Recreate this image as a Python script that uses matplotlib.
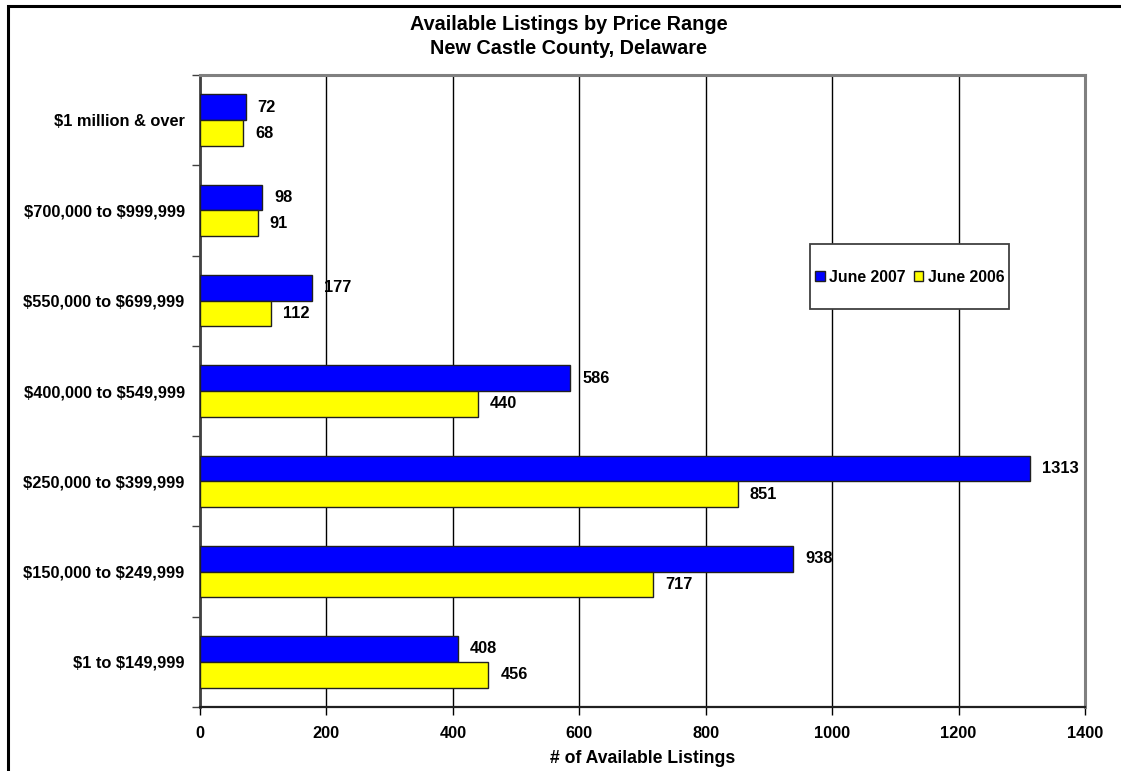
import matplotlib
matplotlib.use("Agg")
import matplotlib.pyplot as plt
import numpy as np
from matplotlib.patches import Rectangle

plt.rcParams['font.family'] = ['Liberation Sans', 'DejaVu Sans']
plt.rcParams['font.weight'] = 'bold'
plt.rcParams['text.parse_math'] = False

categories = ["$1 to $149,999", "$150,000 to $249,999", "$250,000 to $399,999",
              "$400,000 to $549,999", "$550,000 to $699,999", "$700,000 to $999,999",
              "$1 million & over"]
june_2007 = [408, 938, 1313, 586, 177, 98, 72]
june_2006 = [456, 717, 851, 440, 112, 91, 68]
series_labels = ["June 2007", "June 2006"]
x_ticks = [0, 200, 400, 600, 800, 1000, 1200, 1400]

fig = plt.figure(figsize=(11.21, 7.71), dpi=100)
W, H = 1121, 771
ax = fig.add_axes([200 / W, 1 - 707 / H, 885 / W, 632 / H])

# outer chart frame
fig.patches.append(Rectangle((8 / W, -0.05), 1.2, 1 - 6 / H + 0.05,
                             transform=fig.transFigure, fill=False,
                             edgecolor='black', linewidth=2.2, zorder=0))

y = np.arange(len(categories))
h = 0.285
b1 = ax.barh(y + h / 2, june_2007, height=h, color='#0000FF', edgecolor='#202020',
             linewidth=1.0, label=series_labels[0], zorder=3)
b2 = ax.barh(y - h / 2, june_2006, height=h, color='#FFFF00', edgecolor='#202020',
             linewidth=1.0, label=series_labels[1], zorder=3)

for bars, vals in ((b1, june_2007), (b2, june_2006)):
    for bar, v in zip(bars, vals):
        ax.text(v + 19, bar.get_y() + bar.get_height() / 2, str(v),
                va='center', ha='left', fontsize=11.8, fontweight='bold', zorder=4)

ax.set_xlim(0, 1400)
ax.set_ylim(-0.5, len(categories) - 0.5)
ax.set_xticks(x_ticks)
ax.set_xticklabels([str(t) for t in x_ticks], fontsize=11.8, fontweight='bold')
ax.tick_params(axis='x', direction='out', length=6, width=1, pad=8, color='black')

ax.set_yticks(y)
ax.set_yticklabels(categories, fontsize=11.8, fontweight='bold')
ax.tick_params(axis='y', which='major', length=0, pad=11)
ax.set_yticks(np.arange(-0.5, len(categories), 1), minor=True)
ax.tick_params(axis='y', which='minor', direction='out', length=6, width=1, color='#404040')

ax.xaxis.grid(True, color='black', linewidth=1.0, zorder=0)
ax.set_axisbelow(True)

for side in ('top', 'right'):
    ax.spines[side].set_color('#808080')
    ax.spines[side].set_linewidth(2.2)
ax.spines['left'].set_color('#404040')
ax.spines['left'].set_linewidth(2.0)
ax.spines['bottom'].set_color('#202020')
ax.spines['bottom'].set_linewidth(1.6)

ax.set_xlabel("# of Available Listings", fontsize=12.7, fontweight='bold', labelpad=6)
fig.text(569 / W, 1 - 25 / H, "Available Listings by Price Range", ha='center', va='center',
         fontsize=14.3, fontweight='bold')
fig.text(569 / W, 1 - 48 / H, "New Castle County, Delaware", ha='center', va='center',
         fontsize=14.3, fontweight='bold')

# legend box drawn separately so its padding can differ per side
box = Rectangle((810 / W, 1 - 309 / H), 199 / W, 65 / H, transform=fig.transFigure,
                facecolor='white', edgecolor='#404040', linewidth=1.3, zorder=5)
fig.patches.append(box)
leg = fig.legend(handles=[b1, b2], loc='center', bbox_to_anchor=(910 / W, 1 - 277 / H),
                 ncol=2, frameon=False, fontsize=11.4, handlelength=0.6,
                 handleheight=0.6, handletextpad=0.3, columnspacing=0.5,
                 borderpad=0.2, borderaxespad=0)
leg.set_zorder(6)
for t in leg.get_texts():
    t.set_fontweight('bold')

fig.savefig("out.png", dpi=100)
